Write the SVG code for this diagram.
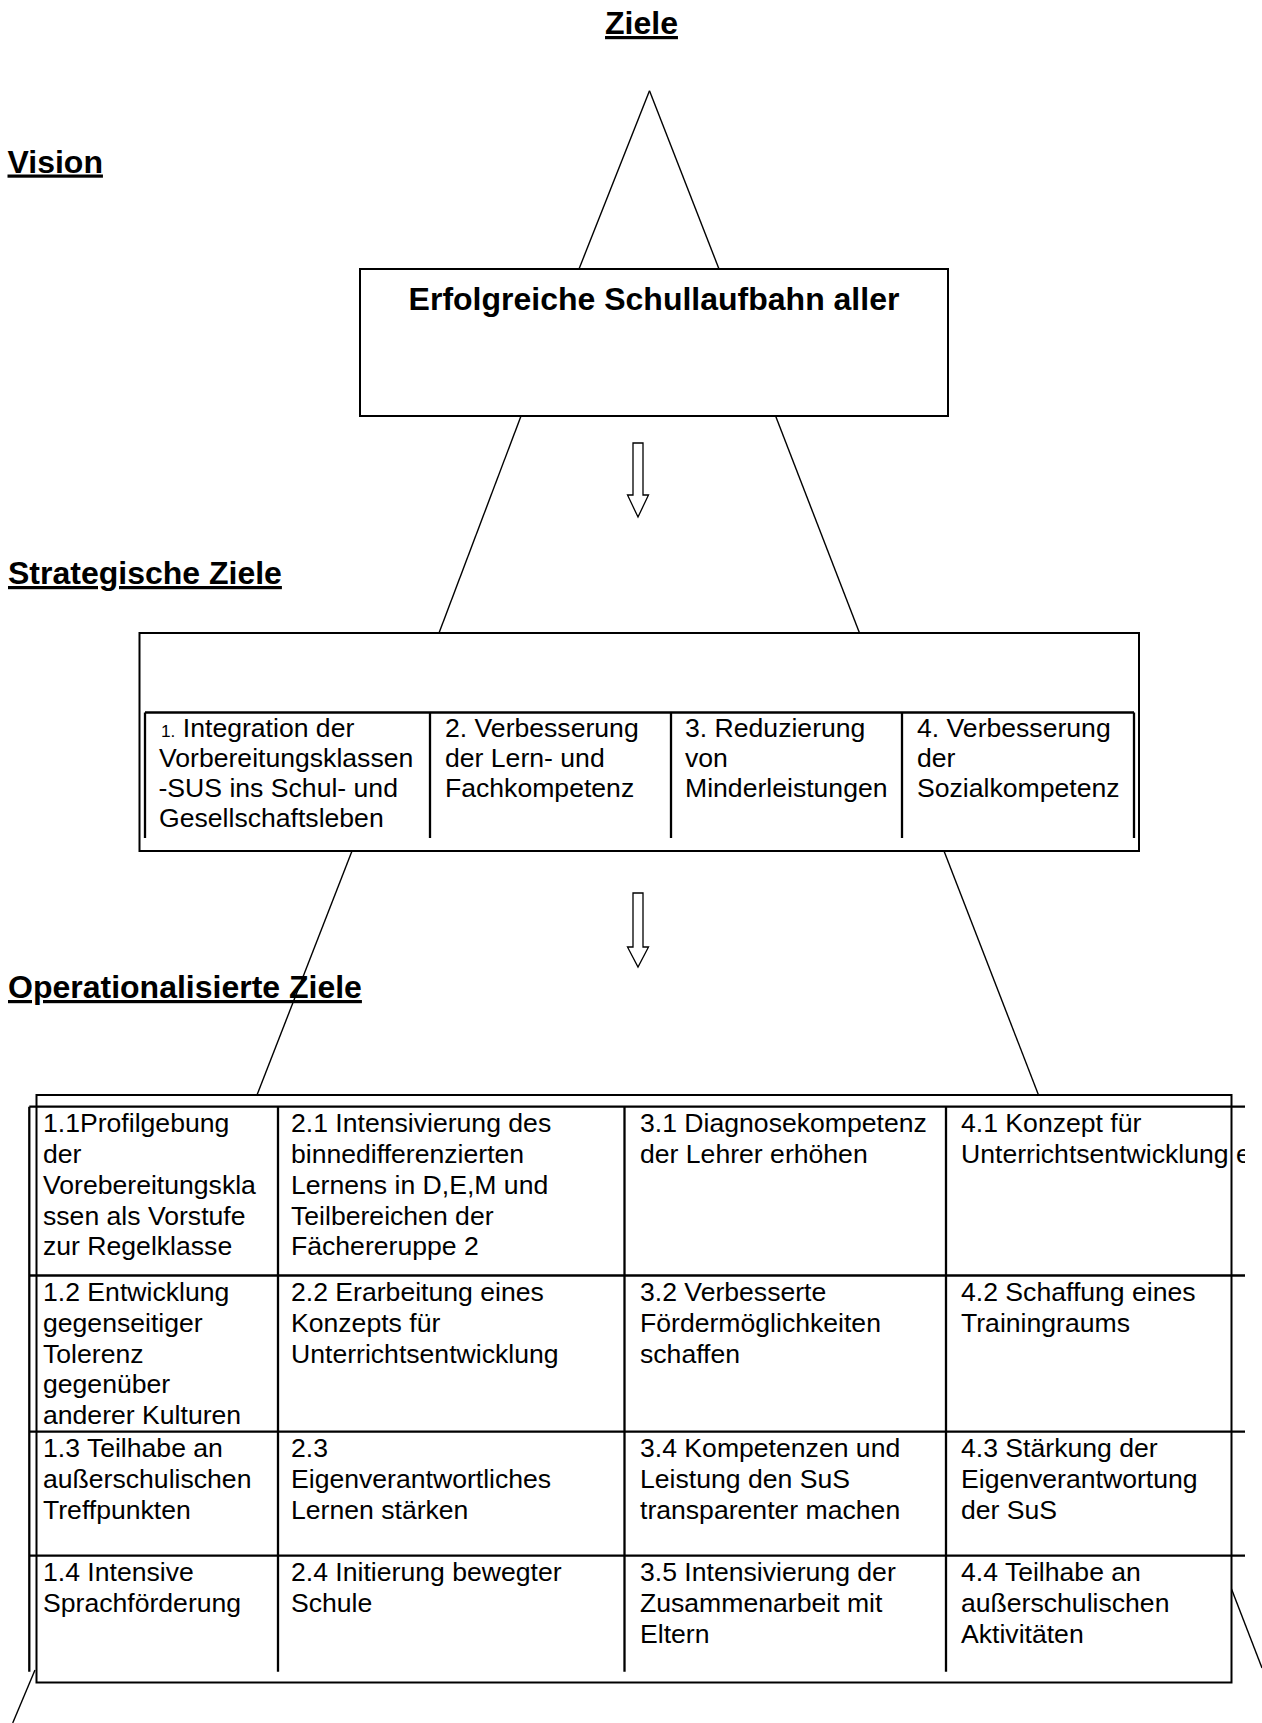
<svg xmlns="http://www.w3.org/2000/svg" width="1262" height="1723" viewBox="0 0 1262 1723">
<style>
  .title { font-family: "Liberation Sans", Arial, sans-serif; font-weight: bold; font-size: 32px; fill: #000; text-decoration: underline; }
  .main { font-family: "Liberation Sans", Arial, sans-serif; font-weight: bold; font-size: 32px; fill: #000; }
  .cell { font-family: "Liberation Sans", Arial, sans-serif; font-size: 26.6px; fill: #000; }
  .box { fill: #fff; stroke: #000; stroke-width: 2; }
  .tl { stroke: #000; stroke-width: 2.3; fill: none; }
  .leg { stroke: #000; stroke-width: 1.4; fill: none; }
  .arrow { fill: #fff; stroke: #000; stroke-width: 1.3; stroke-linejoin: miter; }
</style>
<defs>
  <clipPath id="tableClip"><rect x="0" y="1090" width="1245" height="600"/></clipPath>
</defs>
<rect width="1262" height="1723" fill="#fff"/>

<g id="titles">
  <text class="title" x="641.5" y="34" text-anchor="middle">Ziele</text>
  <text class="title" x="7.5" y="172.5">Vision</text>
  <text class="title" x="8" y="584">Strategische Ziele</text>
  <text class="title" x="8" y="998">Operationalisierte Ziele</text>
</g>

<g id="connectors">
  <line class="leg" x1="649.5" y1="90.7" x2="579" y2="269"/>
  <line class="leg" x1="649.5" y1="90.7" x2="719" y2="269"/>
  <line class="leg" x1="521" y1="416" x2="439" y2="633"/>
  <line class="leg" x1="775.6" y1="416" x2="859.5" y2="633"/>
  <line class="leg" x1="352" y1="851" x2="257" y2="1095"/>
  <line class="leg" x1="944" y1="851" x2="1038.5" y2="1095"/>
  <line class="leg" x1="35" y1="1670" x2="12.7" y2="1723"/>
  <line class="leg" x1="1231.5" y1="1589" x2="1262" y2="1668"/>
  <path class="arrow" d="M633,443 H643 V495 H648.5 L638,517 L627.5,495 H633 Z"/>
  <path class="arrow" d="M633,893 H643 V947 H648.5 L638,967 L627.5,947 H633 Z"/>
</g>

<g id="vision-box">
  <rect class="box" x="360" y="269" width="588" height="147"/>
  <text class="main" x="654" y="310" text-anchor="middle">Erfolgreiche Schullaufbahn aller</text>
</g>

<g id="strategic-box">
  <rect class="box" x="139.5" y="633" width="999.5" height="218"/>
  <g class="tl">
    <line x1="145" y1="712.5" x2="1134" y2="712.5"/>
    <line x1="145" y1="712.5" x2="145" y2="838"/>
    <line x1="430" y1="712.5" x2="430" y2="838"/>
    <line x1="671" y1="712.5" x2="671" y2="838"/>
    <line x1="902" y1="712.5" x2="902" y2="838"/>
    <line x1="1134" y1="712.5" x2="1134" y2="838"/>
  </g>
  <g class="cell">
    <text x="161" y="736.7"><tspan font-size="17.3">1.</tspan> Integration der</text>
    <text x="159" y="766.7">Vorbereitungsklassen</text>
    <text x="158.5" y="796.7">-SUS ins Schul- und</text>
    <text x="159" y="826.7">Gesellschaftsleben</text>
    <text x="445" y="736.7">2. Verbesserung</text>
    <text x="445" y="766.7">der Lern- und</text>
    <text x="445" y="796.7">Fachkompetenz</text>
    <text x="685" y="736.7">3. Reduzierung</text>
    <text x="685" y="766.7">von</text>
    <text x="685" y="796.7">Minderleistungen</text>
    <text x="917" y="736.7">4. Verbesserung</text>
    <text x="917" y="766.7">der</text>
    <text x="917" y="796.7">Sozialkompetenz</text>
  </g>
</g>

<g id="operational-table">
  <rect class="box" x="36.5" y="1095" width="1195" height="587.5"/>
  <g class="tl">
    <line x1="29.3" y1="1106.7" x2="1245" y2="1106.7"/>
    <line x1="29.3" y1="1275.5" x2="1245" y2="1275.5"/>
    <line x1="29.3" y1="1431.7" x2="1245" y2="1431.7"/>
    <line x1="29.3" y1="1555.7" x2="1245" y2="1555.7"/>
    <line x1="29.3" y1="1106.7" x2="29.3" y2="1671.7"/>
    <line x1="278" y1="1106.7" x2="278" y2="1671.7"/>
    <line x1="624.5" y1="1106.7" x2="624.5" y2="1671.7"/>
    <line x1="946" y1="1106.7" x2="946" y2="1671.7"/>
  </g>
  <g class="cell" clip-path="url(#tableClip)">
    <text x="43" y="1132.2">1.1Profilgebung</text>
    <text x="43" y="1163">der</text>
    <text x="43" y="1193.8">Vorebereitungskla</text>
    <text x="43" y="1224.6">ssen als Vorstufe</text>
    <text x="43" y="1255.4">zur Regelklasse</text>
    <text x="291" y="1132.2">2.1 Intensivierung des</text>
    <text x="291" y="1163">binnedifferenzierten</text>
    <text x="291" y="1193.8">Lernens in D,E,M und</text>
    <text x="291" y="1224.6">Teilbereichen der</text>
    <text x="291" y="1255.4">Fächereruppe 2</text>
    <text x="640" y="1132.2">3.1 Diagnosekompetenz</text>
    <text x="640" y="1163">der Lehrer erhöhen</text>
    <text x="961" y="1132.2">4.1 Konzept für</text>
    <text x="961" y="1163">Unterrichtsentwicklung e</text>

    <text x="43" y="1301">1.2 Entwicklung</text>
    <text x="43" y="1331.8">gegenseitiger</text>
    <text x="43" y="1362.6">Tolerenz</text>
    <text x="43" y="1393.4">gegenüber</text>
    <text x="43" y="1424.2">anderer Kulturen</text>
    <text x="291" y="1301">2.2 Erarbeitung eines</text>
    <text x="291" y="1331.8">Konzepts für</text>
    <text x="291" y="1362.6">Unterrichtsentwicklung</text>
    <text x="640" y="1301">3.2 Verbesserte</text>
    <text x="640" y="1331.8">Fördermöglichkeiten</text>
    <text x="640" y="1362.6">schaffen</text>
    <text x="961" y="1301">4.2 Schaffung eines</text>
    <text x="961" y="1331.8">Trainingraums</text>

    <text x="43" y="1457.2">1.3 Teilhabe an</text>
    <text x="43" y="1488">außerschulischen</text>
    <text x="43" y="1518.8">Treffpunkten</text>
    <text x="291" y="1457.2">2.3</text>
    <text x="291" y="1488">Eigenverantwortliches</text>
    <text x="291" y="1518.8">Lernen stärken</text>
    <text x="640" y="1457.2">3.4 Kompetenzen und</text>
    <text x="640" y="1488">Leistung den SuS</text>
    <text x="640" y="1518.8">transparenter machen</text>
    <text x="961" y="1457.2">4.3 Stärkung der</text>
    <text x="961" y="1488">Eigenverantwortung</text>
    <text x="961" y="1518.8">der SuS</text>

    <text x="43" y="1581.2">1.4 Intensive</text>
    <text x="43" y="1612">Sprachförderung</text>
    <text x="291" y="1581.2">2.4 Initierung bewegter</text>
    <text x="291" y="1612">Schule</text>
    <text x="640" y="1581.2">3.5 Intensivierung der</text>
    <text x="640" y="1612">Zusammenarbeit mit</text>
    <text x="640" y="1642.8">Eltern</text>
    <text x="961" y="1581.2">4.4 Teilhabe an</text>
    <text x="961" y="1612">außerschulischen</text>
    <text x="961" y="1642.8">Aktivitäten</text>
  </g>
</g>
</svg>
